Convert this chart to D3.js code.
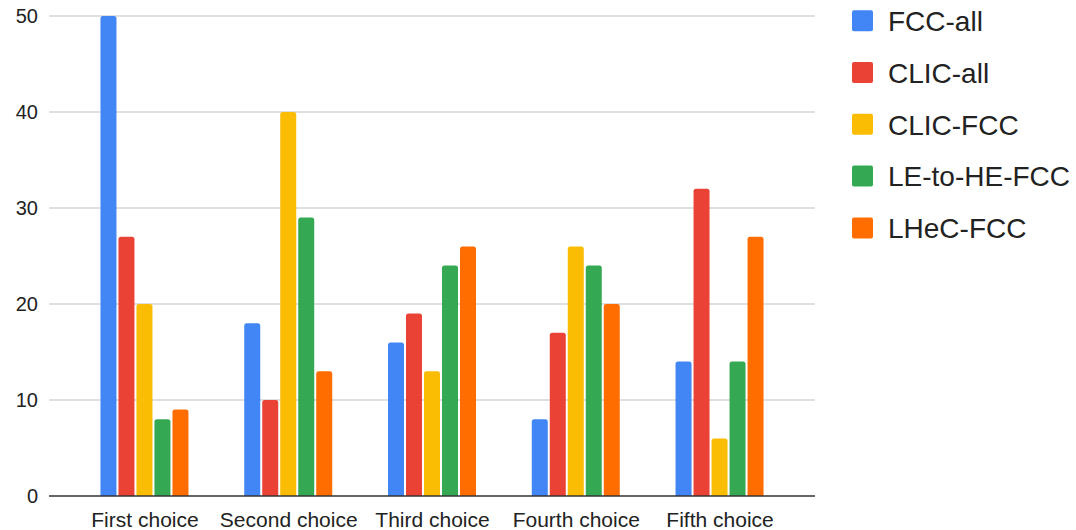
<!DOCTYPE html>
<html><head><meta charset="utf-8">
<script src="https://cdn.jsdelivr.net/npm/d3@7"></script>
<style>html,body{margin:0;padding:0;background:#fff;}svg{display:block;font-family:"Liberation Sans",Arial,sans-serif;}</style>
</head><body><svg id="c" width="1076" height="530"></svg>
<script>
const categories = ["First choice","Second choice","Third choice","Fourth choice","Fifth choice"];
const seriesNames = ["FCC-all","CLIC-all","CLIC-FCC","LE-to-HE-FCC","LHeC-FCC"];
const seriesColors = ["#4285F4","#EA4335","#FBBC04","#34A853","#FF6D01"];
const fccAll = [50,18,16,8,14];
const clicAll = [27,10,19,17,32];
const clicFcc = [20,40,13,26,6];
const leToHeFcc = [8,29,24,24,14];
const lhecFcc = [9,13,26,20,27];
const yTicks = [0,10,20,30,40,50];

const seriesValues = [fccAll,clicAll,clicFcc,leToHeFcc,lhecFcc];
const svg = d3.select("#c");
const plotLeft = 49, plotRight = 815, plotTop = 16, plotBottom = 496;

const x0 = d3.scalePoint().domain(categories).range([plotLeft,plotRight]).padding(0.664);
const x1 = d3.scaleBand().domain(seriesNames).range([-44,44]).paddingInner(0.111).paddingOuter(0);
const y = d3.scaleLinear().domain([0,50]).range([plotBottom,plotTop]);

// gridlines
svg.append("g").selectAll("line").data(yTicks.filter(d=>d>0)).join("line")
  .attr("x1",plotLeft).attr("x2",plotRight).attr("y1",d=>y(d)).attr("y2",d=>y(d))
  .attr("stroke","#d4d4d4").attr("stroke-width",1.3);

// y axis labels
const yAxis = d3.axisLeft(y).tickValues(yTicks).tickSize(0).tickPadding(11).tickFormat(d3.format("d"));
const ya = svg.append("g").attr("transform",`translate(${plotLeft},0)`).call(yAxis);
ya.select(".domain").remove();
ya.selectAll("text").attr("font-size",20).attr("fill","#222").attr("font-family","Liberation Sans, Arial, sans-serif");

// bars
const r = 2.5;
function barPath(x,yTop,w,h){
  const rr = Math.min(r,h,w/2);
  return `M${x},${yTop+h}V${yTop+rr}Q${x},${yTop} ${x+rr},${yTop}H${x+w-rr}Q${x+w},${yTop} ${x+w},${yTop+rr}V${yTop+h}Z`;
}
seriesNames.forEach((s,si)=>{
  svg.append("g").selectAll("path").data(categories).join("path")
    .attr("fill",seriesColors[si])
    .attr("d",(c,ci)=>{
      const v = seriesValues[si][ci];
      const bx = x0(c)+x1(s);
      return barPath(bx,y(v),x1.bandwidth(),y(0)-y(v));
    });
});

// x axis
const xAxis = d3.axisBottom(x0).tickSize(0).tickPadding(16);
const xa = svg.append("g").attr("transform",`translate(0,${plotBottom})`).call(xAxis);
xa.select(".domain").attr("stroke","#333").attr("stroke-width",1.5).attr("d",`M${plotLeft},0H${plotRight}`);
xa.selectAll("text").attr("font-size",21).attr("fill","#222").attr("font-family","Liberation Sans, Arial, sans-serif");

// legend
const lg = svg.append("g");
seriesNames.forEach((s,i)=>{
  const cy = 21.2 + i*51.8;
  lg.append("rect").attr("x",852).attr("y",cy-11).attr("width",21).attr("height",21).attr("rx",2).attr("fill",seriesColors[i]);
  lg.append("text").attr("x",888).attr("y",cy).attr("dy","0.35em").attr("font-size",28).attr("fill","#222").text(s);
});
</script>
</body></html>
